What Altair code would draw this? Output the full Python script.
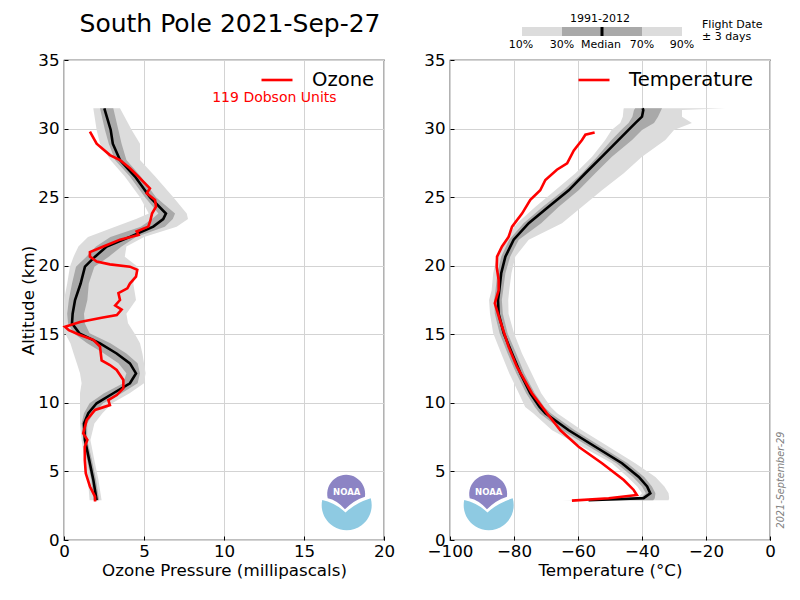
import altair as alt
import pandas as pd

# ---------------- data ----------------
# Ozone climatology 1991-2012 (altitude km, ozone partial pressure mPa)
oz_alt = [2.9, 4.4, 5.8, 7.3, 8.5, 9.24, 9.97, 10.7, 11.43, 12.15, 12.88, 13.6, 14.34, 15.07, 15.8, 16.5,
          17.5, 18.7, 19.93, 20.66, 21.4, 22.1, 22.85, 23.4, 23.8, 25.0, 26.5, 27.7, 28.9, 29.9, 31.48]
oz_p10 = [1.6, 1.5, 1.3, 1.1, 1.0, 1.0, 1.0, 1.0, 1.1, 1.0, 0.8, 0.6, 0.4, 0.06, 0.0, 0.0,
          0.0, 0.2, 0.37, 0.6, 0.9, 1.5, 3.2, 4.5, 5.3, 4.75, 3.8, 2.9, 2.25, 2.04, 1.83]
oz_p30 = [1.85, 1.7, 1.45, 1.2, 1.1, 1.25, 1.6, 2.5, 3.7, 3.9, 3.4, 2.5, 1.45, 0.6, 0.25, 0.2,
          0.3, 0.5, 0.75, 1.4, 2.0, 2.9, 4.8, 5.5, 5.9, 5.06, 4.12, 3.19, 2.8, 2.56, 2.25]
oz_med = [2.04, 1.83, 1.58, 1.31, 1.25, 1.52, 2.04, 3.08, 4.12, 4.5, 4.12, 3.29, 2.25, 0.96, 0.5, 0.54,
          0.69, 1.04, 1.31, 1.94, 2.67, 4.12, 5.58, 6.2, 6.37, 5.37, 4.44, 3.5, 3.05, 2.92, 2.52]
oz_p70 = [2.2, 2.0, 1.75, 1.45, 1.45, 1.85, 2.45, 3.6, 4.6, 4.75, 4.6, 3.9, 2.9, 1.6, 1.3, 1.25,
          1.46, 1.55, 1.9, 2.8, 3.6, 4.5, 6.3, 6.8, 6.94, 5.75, 4.8, 3.9, 3.6, 3.4, 3.08]
oz_p90 = [2.35, 2.15, 1.9, 1.65, 1.9, 2.4, 3.0, 4.1, 5.0, 5.1, 5.0, 4.9, 4.75, 4.4, 4.0, 3.9,
          4.5, 4.33, 4.6, 3.8, 3.9, 5.0, 7.04, 7.75, 7.67, 6.83, 5.7, 4.75, 4.75, 4.23, 3.5]

# Ozone flight profile 2021-Sep-27
oz_fl_alt = [2.8, 3.16, 3.9, 4.86, 5.83, 6.8, 7.3, 7.78, 8.75, 9.48, 9.84, 10.2, 10.57, 11.06, 11.67,
             12.4, 12.76, 13.1, 14.1, 14.6, 14.95, 15.3, 15.55, 15.9, 16.2, 16.4, 16.8, 17.1, 17.5, 18.0,
             18.35, 18.7, 19.2, 19.7, 19.93, 20.1, 20.3, 20.66, 21.0, 21.4, 21.9, 22.24, 22.5, 22.85, 23.3,
             23.8, 24.3, 24.8, 25.28, 25.64, 26.5, 27.1, 27.7, 28.07, 28.9, 29.77]
oz_fl = [1.94, 1.94, 1.62, 1.36, 1.3, 1.3, 1.46, 1.2, 1.42, 1.94, 2.87, 2.77, 3.3, 3.71, 3.71,
         3.29, 2.87, 2.35, 2.25, 1.83, 1.0, 0.3, 0.06, 1.0, 2.35, 3.3, 3.6, 3.2, 3.5, 3.4,
         3.96, 4.12, 4.5, 4.58, 4.12, 2.87, 2.04, 1.62, 1.62, 2.46, 3.5, 4.66, 4.54, 5.27, 5.4,
         5.5, 5.75, 5.69, 5.17, 5.37, 4.65, 4.12, 3.5, 2.87, 2.04, 1.62]

# Temperature climatology 1991-2012 (altitude km, deg C)
t_alt = [2.9, 3.05, 3.4, 3.9, 4.6, 5.6, 6.8, 8.0, 9.24, 9.7, 10.7, 12.15, 13.6, 15.07, 16.5, 17.5,
         18.2, 19.45, 20.66, 21.9, 23.1, 24.3, 25.5, 26.74, 27.95, 29.17, 29.9, 30.4, 30.87, 31.35, 31.48]
t_p10 = [-65, -41.5, -40.0, -41.5, -44.5, -49.4, -58.7, -68.1, -74, -76.5, -78.5, -81.5, -84, -86.5, -87.5, -87.8,
         -87, -86.5, -85.4, -82.7, -79, -73.3, -67.1, -60.8, -55.6, -51.5, -49.5, -46.8, -46, -45.8, -45.7]
t_p30 = [-57.5, -40.5, -38.8, -40.0, -42.8, -48.0, -56.5, -65, -72, -73.5, -76.2, -79.3, -82, -84.5, -86, -86.2,
         -85.8, -85.2, -84, -81.5, -77, -71, -64.5, -58.75, -54, -49.5, -46.5, -44.2, -43, -42.5, -42.1]
t_med = [-56.7, -39.5, -37.4, -38.4, -41, -46.25, -54.6, -62.9, -70.2, -72, -74.9, -78, -80.6, -83.2, -84.8, -85,
         -84.6, -84, -82.7, -80.1, -75.4, -69.2, -62.9, -57.7, -52.5, -47.3, -44.2, -42.1, -40, -39.6, -39.8]
t_p70 = [-36.5, -36, -35.8, -36.9, -39.3, -44.5, -52.7, -61, -68.5, -70.5, -73.5, -76.8, -79.3, -82, -83.5, -83.8,
         -83.4, -82.7, -81.2, -78.5, -71.5, -66, -59.8, -54.6, -49.4, -43.1, -40, -36.25, -35, -34, -33.75]
t_p90 = [-31.7, -31.5, -31.7, -33.0, -35.8, -42.1, -50.4, -58.75, -66.5, -68.5, -71.5, -74.5, -77.5, -80, -81.7, -81.8,
         -81.5, -80.8, -79.6, -75.4, -65, -58.75, -52.5, -45.7, -40, -32.7, -30, -24.4, -27.5, -27.5, -14]

# Temperature flight profile 2021-Sep-27
t_fl_alt = [2.87, 3.04, 3.28, 3.65, 4.375, 5.6, 6.8, 8.0, 9.24, 10.7, 12.64, 14.1, 16.04, 17.26, 18.2,
            18.96, 19.9, 20.66, 21.4, 22.1, 22.85, 23.8, 24.8, 25.5, 26.25, 27.0, 27.47, 28.4, 29.17, 29.55, 29.72]
t_fl = [-61.9, -50.4, -41.6, -42.6, -45.7, -52.5, -59.8, -65.5, -69.7, -74.4, -79.1, -81.7, -84.4, -86.0, -84.8,
        -84.8, -85.4, -85.3, -83.75, -81.7, -80.6, -77.5, -74.9, -71.8, -70.2, -66.6, -63.4, -61.3, -58.75, -57.7, -54.8]

total_ozone_text = "119 Dobson Units"
legend_labels = ["10%", "30%", "Median", "70%", "90%"]

# ---------------- styling ----------------
FONT = "DejaVu Sans"
LIGHT = "#dcdcdc"
DARK = "#a9a9a9"
RED = "#ff0000"
NOAA_BLUE = "#8ecae2"
NOAA_PURPLE = "#8c84c4"
W, H = 320, 480

BLUE_PATH = "M -0.98 -0.2 A 1 1 0 1 0 0.96 -0.27 Q 0.35 -0.08 -0.05 0.3 Q -0.45 -0.08 -0.98 -0.2 Z"
PURPLE_PATH = "M -0.76 -0.27 A 0.76 0.76 0 1 1 0.73 -0.33 Q 0.3 -0.2 -0.07 0.17 Q -0.4 -0.2 -0.76 -0.27 Z"

oz_clim = pd.DataFrame({"alt": oz_alt, "p10": oz_p10, "p30": oz_p30, "med": oz_med, "p70": oz_p70, "p90": oz_p90})
oz_flight = pd.DataFrame({"alt": oz_fl_alt, "val": oz_fl, "series": "Ozone"})
t_clim = pd.DataFrame({"alt": t_alt, "p10": t_p10, "p30": t_p30, "med": t_med, "p70": t_p70, "p90": t_p90})
t_flight = pd.DataFrame({"alt": t_fl_alt, "val": t_fl, "series": "Temperature"})
one = pd.DataFrame({"k": [0]})

y_scale = alt.Scale(domain=[0, 35], nice=False, zero=False)
Y_VALUES = list(range(0, 36, 5))


def panel(clim, flight, xdom, xvals, xtitle, ytitle, series, logo_x, legend_x, extra):
    x_scale = alt.Scale(domain=xdom, nice=False, zero=False)
    ykw = dict(values=Y_VALUES, offset=-4, tickSize=4, labelPadding=5, titlePadding=0, grid=True)
    if ytitle:
        yax = alt.Axis(title=ytitle, **ykw)
    else:
        yax = alt.Axis(title=None, **ykw)
    xax = alt.Axis(title=xtitle, values=xvals, offset=-4, tickSize=4, labelPadding=3.5, titlePadding=2.5,
                   labelFlush=False, grid=True)
    y = alt.Y("alt:Q", scale=y_scale, axis=yax)

    light = alt.Chart(clim).mark_area(orient="horizontal", color=LIGHT).encode(
        x=alt.X("p10:Q", scale=x_scale, axis=xax), x2="p90:Q", y=y)
    dark = alt.Chart(clim).mark_area(orient="horizontal", color=DARK).encode(
        x=alt.X("p30:Q", scale=x_scale, axis=xax), x2="p70:Q", y=y)
    med = alt.Chart(clim).mark_line(color="black", strokeWidth=2.6).encode(
        x=alt.X("med:Q", scale=x_scale, axis=xax), y=y, order="alt:Q")
    fl = alt.Chart(flight).mark_line(strokeWidth=2.6).encode(
        x=alt.X("val:Q", scale=x_scale, axis=xax), y=y, order="alt:Q",
        color=alt.Color("series:N", scale=alt.Scale(domain=[series], range=[RED]),
                        legend=alt.Legend(title=None, orient="none", legendX=legend_x, legendY=3)))
    logo_b = alt.Chart(one).mark_point(shape=BLUE_PATH, filled=True, size=2500, color=NOAA_BLUE,
                                       opacity=1).encode(x=alt.datum(logo_x), y=alt.datum(2.55))
    logo_p = alt.Chart(one).mark_point(shape=PURPLE_PATH, filled=True, size=2500, color=NOAA_PURPLE,
                                       opacity=1).encode(x=alt.datum(logo_x), y=alt.datum(2.55))
    logo_t = alt.Chart(one).mark_text(text="NOAA", color="white", font=FONT, fontSize=8.5,
                                      fontWeight="bold", dy=-13).encode(x=alt.datum(logo_x), y=alt.datum(2.55))
    return alt.layer(light, dark, med, fl, logo_b, logo_p, logo_t, *extra).properties(width=W, height=H)


def deco_text(txt, x, y, size=11, **kw):
    return alt.Chart(one).mark_text(text=txt, font=FONT, fontSize=size, **kw).encode(
        x=alt.value(x), y=alt.value(y))


# annotations
dobson = alt.Chart(one).mark_text(text=total_ozone_text, color=RED, font=FONT, fontSize=14).encode(
    x=alt.datum(13.15), y=alt.datum(32.22))

leg_light = alt.Chart(one).mark_rect(color=LIGHT).encode(
    x=alt.value(72), x2=alt.value(232), y=alt.value(-33), y2=alt.value(-24))
leg_dark = alt.Chart(one).mark_rect(color=DARK).encode(
    x=alt.value(112), x2=alt.value(192), y=alt.value(-33), y2=alt.value(-24))
leg_med = alt.Chart(one).mark_rect(color="black").encode(
    x=alt.value(150.5), x2=alt.value(153.5), y=alt.value(-33), y2=alt.value(-24))
leg_title = deco_text("1991-2012", 150, -41.5)
leg_pos = [71, 112, 151, 192, 232]
leg_lbls = [deco_text(t, p, -15.5) for t, p in zip(legend_labels, leg_pos)]
flight1 = deco_text("Flight Date", 252, -35.5, align="left")
flight2 = deco_text("\u00b1 3 days", 252, -23.5, align="left")
date_txt = deco_text("2021-September-29", 331, 420, size=9.7, angle=270, fontStyle="italic", color="#808080")

left = panel(oz_clim, oz_flight, [0, 20], [0, 5, 10, 15, 20], "Ozone Pressure (millipascals)",
             "Altitude (km)", "Ozone", 17.67, 196, [dobson]).properties(
    title=alt.TitleParams("South Pole 2021-Sep-27", font=FONT, fontSize=25, fontWeight="normal",
                          anchor="middle", dx=6, offset=15, color="black"))
right = panel(t_clim, t_flight, [-100, 0], [-100, -80, -60, -40, -20, 0], "Temperature (\u00b0C)",
              None, "Temperature", -87.9, 127,
              [leg_light, leg_dark, leg_med, leg_title, *leg_lbls, flight1, flight2, date_txt])

chart = alt.hconcat(left, right, spacing=27).resolve_scale(color="independent").properties(
    padding={"left": 12, "top": 3, "right": 0, "bottom": 0}
).configure_view(stroke="black", strokeWidth=1.2).configure_axis(
    domain=False, gridColor="#d3d3d3", gridWidth=1, labelFont=FONT, titleFont=FONT,
    labelFontSize=16.7, titleFontSize=16.7, titleFontWeight="normal", labelColor="black",
    titleColor="black", tickColor="black"
).configure_legend(
    symbolType="stroke", symbolStrokeWidth=2.6, symbolSize=961,
    labelFont=FONT, labelFontSize=19.6, labelColor="black", labelOffset=18, padding=0
)

chart.save("out.html", embed_options={"renderer": "svg", "actions": False})
